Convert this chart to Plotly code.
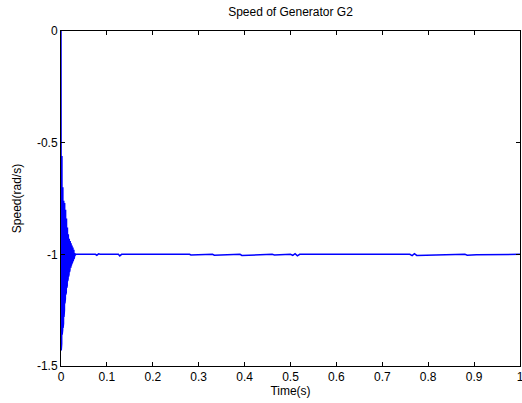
import plotly.graph_objects as go

# Time samples (s)
transient_t = [0.0, 0.0005, 0.001, 0.0015, 0.002, 0.0025, 0.003, 0.0035, 0.004, 0.0045,
               0.005, 0.0055, 0.006, 0.0065, 0.007, 0.0075, 0.008, 0.0085, 0.009, 0.0095,
               0.010, 0.0105, 0.011, 0.0115, 0.012, 0.0125, 0.013, 0.0135, 0.014, 0.0145,
               0.015, 0.0155, 0.016, 0.0165, 0.017, 0.0175, 0.018, 0.0185, 0.019, 0.0195,
               0.020, 0.0205, 0.021, 0.0215, 0.022, 0.0225, 0.023, 0.0235, 0.024, 0.0245,
               0.025, 0.0255, 0.026, 0.0265, 0.027, 0.0275, 0.028, 0.0285, 0.029, 0.0295,
               0.030, 0.031, 0.032]
transient_speed = [0.0, -1.43, -0.55, -1.40, -0.56, -1.36, -0.60, -1.34, -0.70, -1.33,
                   -0.75, -1.31, -0.76, -1.28, -0.77, -1.25, -0.77, -1.22, -0.78, -1.20,
                   -0.80, -1.18, -0.82, -1.17, -0.84, -1.15, -0.86, -1.14, -0.88, -1.12,
                   -0.90, -1.11, -0.91, -1.10, -0.92, -1.09, -0.93, -1.08, -0.94, -1.07,
                   -0.94, -1.06, -0.95, -1.06, -0.95, -1.05, -0.96, -1.04, -0.96, -1.04,
                   -0.97, -1.03, -0.97, -1.03, -0.98, -1.02, -0.98, -1.02, -0.99, -1.01,
                   -0.995, -1.005, -1.0]

steady_t = [0.035, 0.075, 0.078, 0.082, 0.085, 0.125, 0.128, 0.132, 0.28, 0.283,
            0.33, 0.334, 0.39, 0.394, 0.46, 0.465, 0.50, 0.505, 0.51, 0.515,
            0.52, 0.60, 0.604, 0.70, 0.703, 0.76, 0.765, 0.77, 0.775, 0.86,
            0.865, 0.88, 0.885, 0.90, 0.905, 1.0]
steady_speed = [-1.0, -1.0, -1.004, -0.998, -1.0, -1.0, -1.007, -1.0, -1.0, -1.003,
                -1.0, -1.004, -1.0, -1.005, -1.0, -1.003, -1.0, -1.005, -0.997, -1.007,
                -1.0, -1.0, -1.003, -1.0, -1.002, -1.0, -1.006, -0.997, -1.005, -1.0,
                -1.003, -1.0, -1.004, -1.0, -1.002, -1.0]

time_s = transient_t + steady_t
speed = transient_speed + steady_speed

x_ticks = [0, 0.1, 0.2, 0.3, 0.4, 0.5, 0.6, 0.7, 0.8, 0.9, 1]
x_labels = ["0", "0.1", "0.2", "0.3", "0.4", "0.5", "0.6", "0.7", "0.8", "0.9", "1"]
y_ticks = [-1.5, -1, -0.5, 0]
y_labels = ["-1.5", "-1", "-0.5", "0"]

fig = go.Figure()
fig.add_trace(go.Scatter(x=time_s, y=speed, mode="lines",
                         line=dict(color="#0000ff", width=1.5),
                         showlegend=False, hoverinfo="skip"))

font = dict(family="Liberation Sans, Arial, sans-serif", size=12, color="#000000")
axis_common = dict(showgrid=False, zeroline=False, showline=True, linecolor="#000000",
                   linewidth=1, mirror="ticks", ticks="inside", ticklen=4,
                   tickcolor="#000000", tickwidth=1, tickfont=font,
                   automargin=False, ticklabeloverflow="allow")

fig.update_layout(
    width=522, height=403,
    margin=dict(l=61, r=2, t=31, b=37, autoexpand=False),
    paper_bgcolor="#ffffff", plot_bgcolor="#ffffff",
    font=font,
    title=dict(text="Speed of Generator G2", x=0.5, xanchor="center",
               xref="paper", y=1 - 12 / 403, yanchor="middle", font=font,
               automargin=False),
    xaxis=dict(range=[0, 1], tickvals=x_ticks, ticktext=x_labels,
               title=dict(text="Time(s)", font=font, standoff=0), **axis_common),
    yaxis=dict(range=[-1.5, 0], tickvals=y_ticks, ticktext=y_labels,
               title=dict(text="Speed(rad/s)", font=font, standoff=12), **axis_common),
)

post = ("document.documentElement.style.margin='0';"
        "document.documentElement.style.overflow='hidden';"
        "document.body.style.margin='0';document.body.style.padding='0';"
        "document.body.style.overflow='hidden';"
        "Plotly.relayout('{plot_id}', {width: 522, height: 403});")

fig.write_html("out.html", post_script=post,
               config={"responsive": False, "displayModeBar": False})
